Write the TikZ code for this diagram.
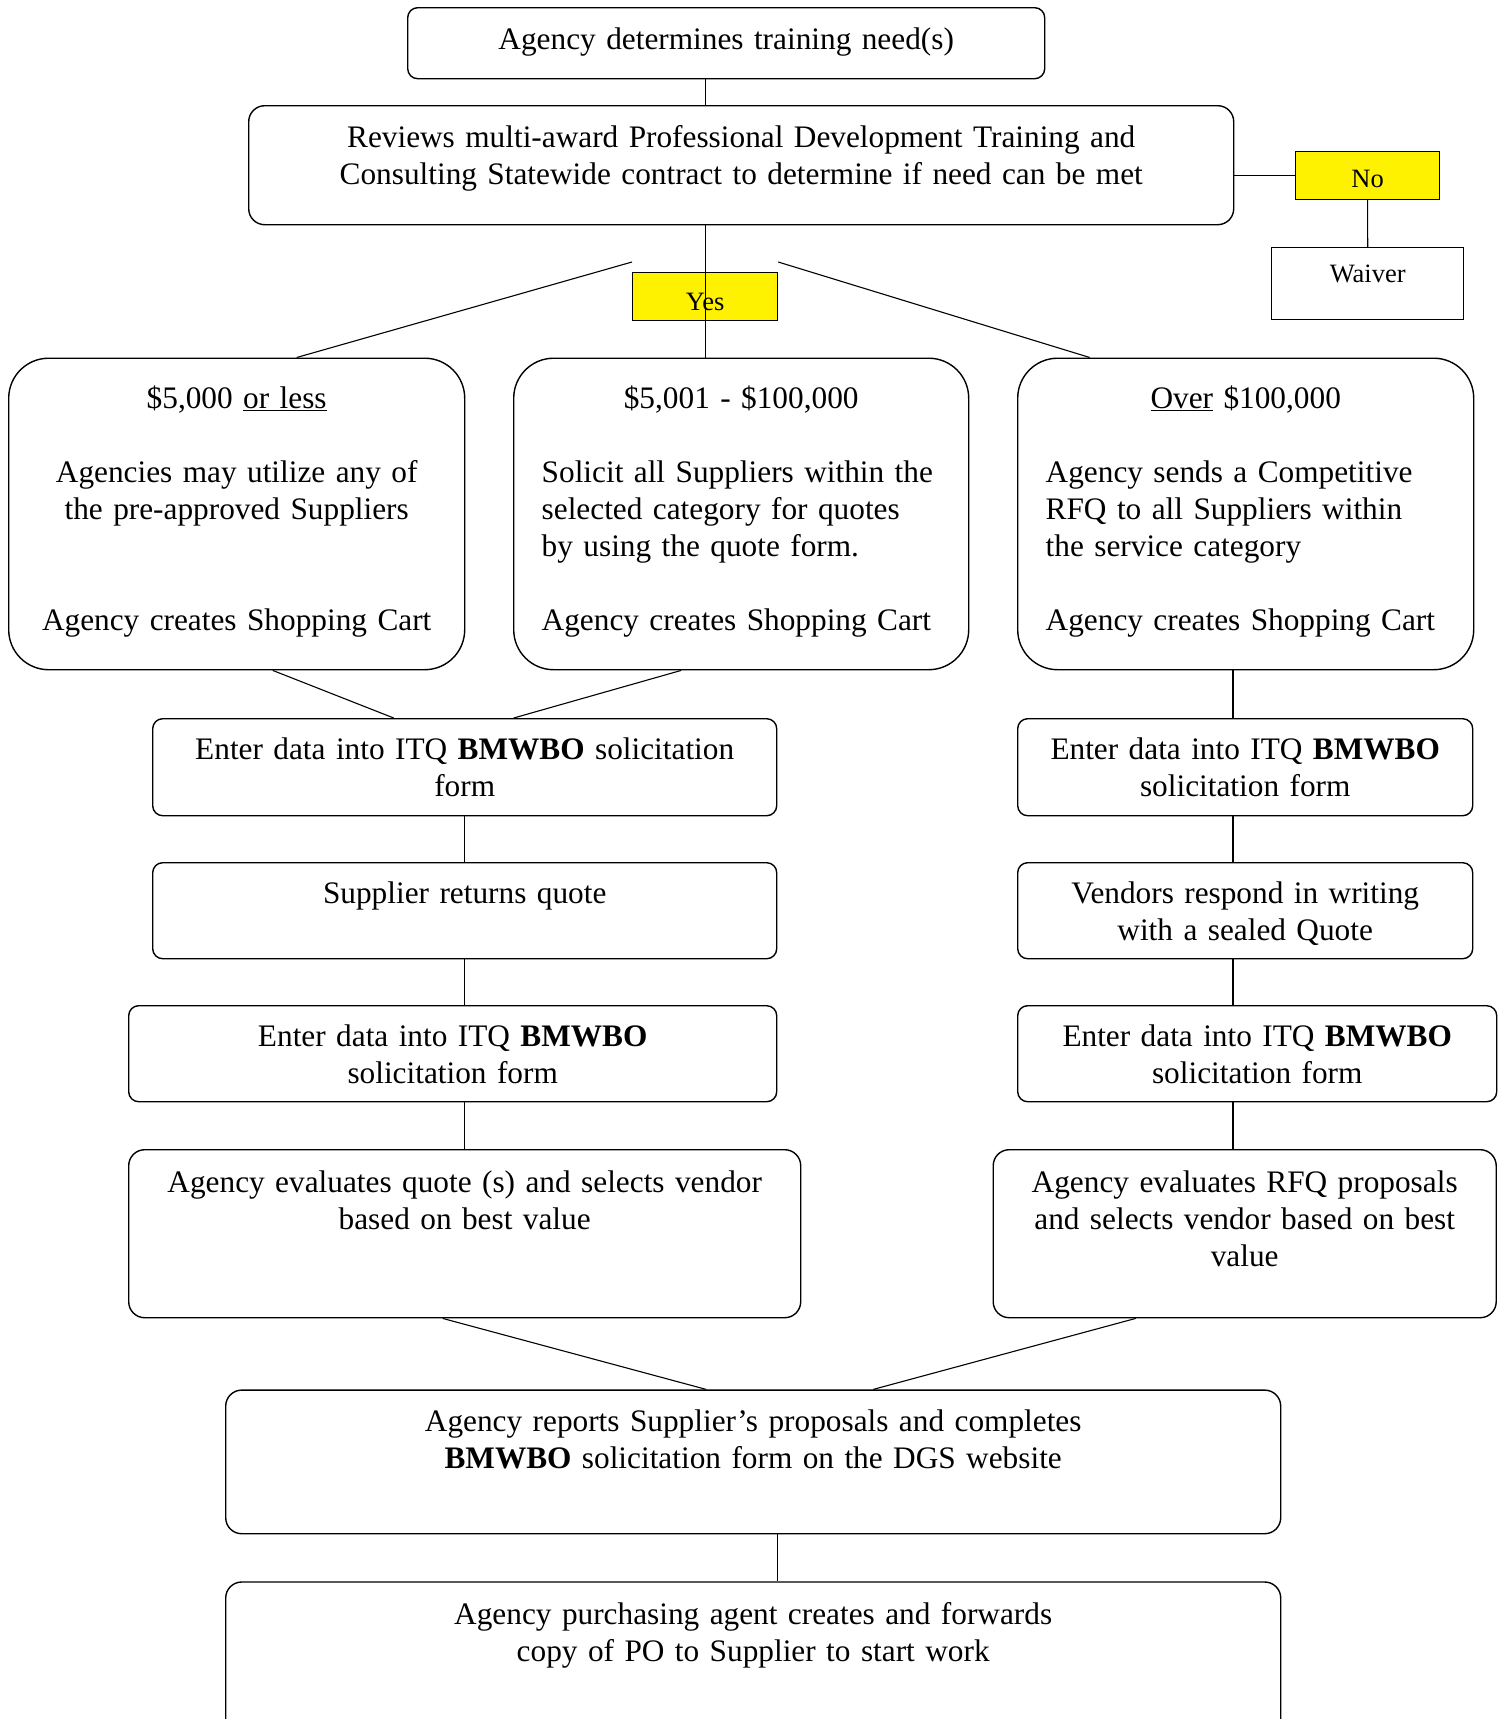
\documentclass[tikz,border=0pt]{standalone}
\usepackage{fontspec}
\setmainfont{Liberation Serif}
\newcommand\flowfont{\fontsize{31.3bp}{37bp}\selectfont}
\newcommand\flagfont{\fontsize{26.5bp}{31bp}\selectfont}

\begin{document}
\begin{tikzpicture}[x=1bp, y=-1bp,
  box/.style={draw, line width=1.4bp, rounded corners=10bp, inner sep=0pt, align=center,
    anchor=north west, font=\flowfont, text height=41bp},
  tall/.style={box, rounded corners=40bp, text width=456bp, text height=50.5bp, text depth=261bp},
  flag/.style={draw, fill=yellow, line width=1.2bp, inner sep=0pt, align=center,
    anchor=north west, font=\flagfont},
  link/.style={line width=1.1bp}]
\useasboundingbox (0,0) rectangle (1499,1719);
\fill[white] (0,0) rectangle (1499,1719);

% top of the chart
\node[box, text width=637bp, text height=42bp, text depth=29bp] (need) at (407,7) {Agency determines training need(s)};
\node[box, rounded corners=16bp, text width=985bp, text height=41.5bp, text depth=77.5bp] (review) at (248,105)
  {Reviews multi-award Professional Development Training and\\ Consulting Statewide contract to determine if need can be met};
\node[flag, text width=144bp, text height=35.7bp, text depth=12.3bp] (no) at (1295,151) {No};
\node[box, rounded corners=0pt, font=\flagfont, text width=192bp, text height=34.7bp, text depth=37.3bp] (waiver) at (1271,247) {Waiver};
\node[flag, text width=145bp, text height=38bp, text depth=10bp] (yes) at (632,272) {Yes};

% three price ranges
\node[tall] (low) at (8,357.5)
  {\$5,000 \underline{or less}\\[37bp] Agencies may utilize any of\\ the pre-approved Suppliers\\[74bp] Agency creates Shopping Cart};
\node[tall, align=left, inner xsep=28bp, text width=399bp] (mid) at (513,357.5)
  {\makebox[\linewidth]{\$5,001 - \$100,000}\\[37bp] Solicit all Suppliers within the\\ selected category for quotes\\ by using the quote form.\\[37bp] Agency creates Shopping Cart};
\node[tall, align=left, inner xsep=28bp, text width=400bp] (high) at (1017,357.5)
  {\makebox[\linewidth]{\underline{Over} \$100,000}\\[37bp] Agency sends a Competitive\\ RFQ to all Suppliers within\\ the service category\\[37bp] Agency creates Shopping Cart};

% quote branch
\node[box, text width=624bp, text depth=56bp] (enterA) at (152,718) {Enter data into ITQ \textbf{BMWBO} solicitation\\ form};
\node[box, text width=624bp, text depth=55bp] (quote) at (152,862) {Supplier returns quote};
\node[box, text width=648bp, text height=40.5bp, text depth=55.5bp] (enterB) at (128,1005) {Enter data into ITQ \textbf{BMWBO}\\ solicitation form};
\node[box, rounded corners=16bp, text width=672bp, text height=43bp, text depth=125bp] (pickA) at (128,1149)
  {Agency evaluates quote (s) and selects vendor\\ based on best value};

% RFQ branch
\coordinate (rightcol) at (1233,0);
\node[box, text width=455bp, text depth=56bp] (enterC) at (1017,718) {Enter data into ITQ \textbf{BMWBO}\\ solicitation form};
\node[box, text width=455bp, text depth=55bp] (sealed) at (1017,862) {Vendors respond in writing\\ with a sealed Quote};
\node[box, text width=479bp, text height=40.5bp, text depth=55.5bp] (enterD) at (1017,1005) {Enter data into ITQ \textbf{BMWBO}\\ solicitation form};
\node[box, rounded corners=16bp, text width=503bp, text height=43bp, text depth=125bp] (pickB) at (992.5,1149)
  {Agency evaluates RFQ proposals\\ and selects vendor based on best\\ value};

% both branches end here
\node[box, rounded corners=16bp, text width=1055bp, text depth=102.6bp] (report) at (225,1389.4)
  {Agency reports Supplier’s proposals and completes\\ \textbf{BMWBO} solicitation form on the DGS website};
\node[box, rounded corners=16bp, text width=1055bp, text height=42bp, text depth=160bp] (order) at (225,1581.3)
  {Agency purchasing agent creates and forwards\\ copy of PO to Supplier to start work};

% connectors
\draw[link] (need.south -| yes) -- (review.north -| yes);
\draw[link] (review.south -| yes) -- (mid.north -| yes);
\draw[link] (no.west) -- (no.west -| review.east);
\draw[link] (no.south) -- (waiver.north);
\draw[link] ([yshift=10bp]yes.north west) -- ([xshift=60bp]low.north);
\draw[link] ([yshift=10bp]yes.north east) -- ([xshift=-156bp]high.north);
\draw[link] ([xshift=36bp]low.south) -- ([xshift=-71bp]enterA.north);
\draw[link] ([xshift=-60bp]mid.south) -- ([xshift=49bp]enterA.north);
\draw[link] (enterA.south) -- (quote.north);
\draw[link] (quote.south) -- (enterB.north -| quote);
\draw[link] (enterB.south -| pickA) -- (pickA.north);
\draw[link] (high.south -| rightcol) -- (enterC.north -| rightcol);
\draw[link] (enterC.south -| rightcol) -- (sealed.north -| rightcol);
\draw[link] (sealed.south -| rightcol) -- (enterD.north -| rightcol);
\draw[link] (enterD.south -| rightcol) -- (pickB.north -| rightcol);
\draw[link] ([xshift=-22bp]pickA.south) -- ([xshift=-47bp]report.north);
\draw[link] ([xshift=-109bp]pickB.south) -- ([xshift=120bp]report.north);
\draw[link] ([xshift=24bp]report.south) -- ([xshift=24bp]order.north);
\end{tikzpicture}
\end{document}
